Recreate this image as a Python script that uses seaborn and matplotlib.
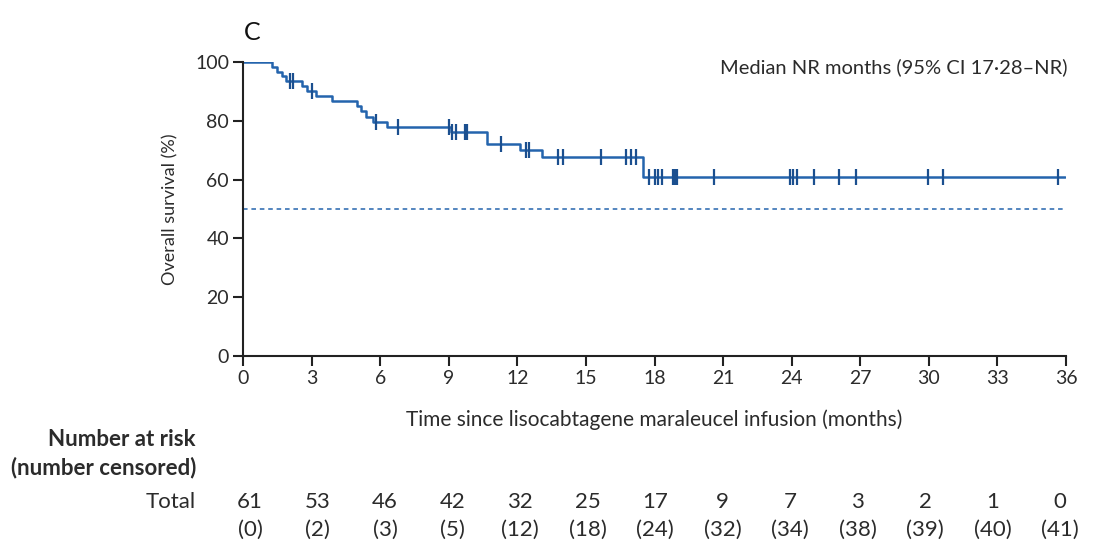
import numpy as np
import pandas as pd
import matplotlib
matplotlib.use("Agg")
import matplotlib.pyplot as plt
import seaborn as sns

# ---- data ----
step_times = [0, 1.25, 1.47, 1.7, 1.9, 2.57, 2.8, 3.2, 3.9, 5.0, 5.15, 5.4, 5.7,
              6.3, 9.1, 10.66, 12.1, 13.1, 17.5, 35.95]
step_surv = [100, 98.4, 96.7, 95.1, 93.4, 91.8, 90.1, 88.4, 86.7, 84.9, 83.2, 81.4,
             79.7, 78.0, 76.2, 72.2, 70.0, 67.8, 61.0, 61.0]
censor_times = [2.05, 2.2, 3.0, 5.8, 6.8, 9.0, 9.15, 9.3, 9.7, 9.8, 11.3, 12.4, 12.5,
                13.8, 14.0, 15.65, 16.75, 16.96, 17.2, 17.77, 18.02, 18.17, 18.32,
                18.8, 18.9, 19.0, 20.6, 23.93, 24.07, 24.22, 24.99, 26.07, 26.8,
                29.95, 30.63, 35.67]
risk_times = [0, 3, 6, 9, 12, 15, 18, 21, 24, 27, 30, 33, 36]
at_risk = [61, 53, 46, 42, 32, 25, 17, 9, 7, 3, 2, 1, 0]
censored = [0, 2, 3, 5, 12, 18, 24, 32, 34, 38, 39, 40, 41]
x_ticks = [0, 3, 6, 9, 12, 15, 18, 21, 24, 27, 30, 33, 36]
y_ticks = [0, 20, 40, 60, 80, 100]

sns.set_theme(style="ticks")
plt.rcParams['font.family'] = ['Lato', 'DejaVu Sans']

W, H = 1119, 548
fig = plt.figure(figsize=(W / 100, H / 100), dpi=100)
ax = fig.add_axes([243 / W, 1 - 356 / H, (1066 - 243) / W, (356 - 62) / H])

blue = "#2464ad"
dark = "#1b4f8f"
txt = "#2b2b2b"

curve = pd.DataFrame({"t": step_times, "s": step_surv})
sns.lineplot(data=curve, x="t", y="s", drawstyle="steps-post", estimator=None,
             sort=False, color=blue, linewidth=1.8, ax=ax)

st = np.array(step_times)
ss = np.array(step_surv)
idx = np.searchsorted(st, np.array(censor_times), side="right") - 1
ax.plot(censor_times, ss[idx], linestyle="none", marker="|", markersize=12,
        markeredgewidth=1.6, color=dark)

ax.axhline(50, color=blue, linestyle=(0, (3, 2.5)), linewidth=1.1)

ax.set_xlim(0, 36)
ax.set_ylim(0, 100)
ax.set_xticks(x_ticks)
ax.set_yticks(y_ticks)
sns.despine(ax=ax)
for sp in ["left", "bottom"]:
    ax.spines[sp].set_linewidth(1.5)
    ax.spines[sp].set_color("#222222")
ax.tick_params(axis="both", length=7, width=1.5, color="#222222",
               labelsize=14, labelcolor=txt, pad=3)
ax.set_xlabel("Time since lisocabtagene maraleucel infusion (months)",
              fontsize=15, color=txt, labelpad=16)
ax.set_ylabel("Overall survival (%)", fontsize=13, color=txt, labelpad=12)

fig.text(252 / W, 1 - 32 / H, "C", fontsize=18, color="#111111",
         ha="center", va="center")
fig.text(1068 / W, 1 - 67 / H, "Median NR months (95% CI 17·28–NR)",
         fontsize=14.5, color=txt, ha="right", va="center")

# risk table
fig.text(196 / W, 1 - 440 / H, "Number at risk", fontsize=16, fontweight="bold",
         color=txt, ha="right", va="center")
fig.text(196 / W, 1 - 468 / H, "(number censored)", fontsize=16, fontweight="bold",
         color=txt, ha="right", va="center")
fig.text(196 / W, 1 - 502 / H, "Total", fontsize=16, color=txt,
         ha="right", va="center")
for t, n, c in zip(risk_times, at_risk, censored):
    xp = 250 + t * (1060 - 250) / 36
    fig.text(xp / W, 1 - 502 / H, str(n), fontsize=16, color=txt,
             ha="center", va="center")
    fig.text(xp / W, 1 - 530 / H, f"({c})", fontsize=16, color=txt,
             ha="center", va="center")

fig.savefig("out.png", dpi=100, facecolor="white")
